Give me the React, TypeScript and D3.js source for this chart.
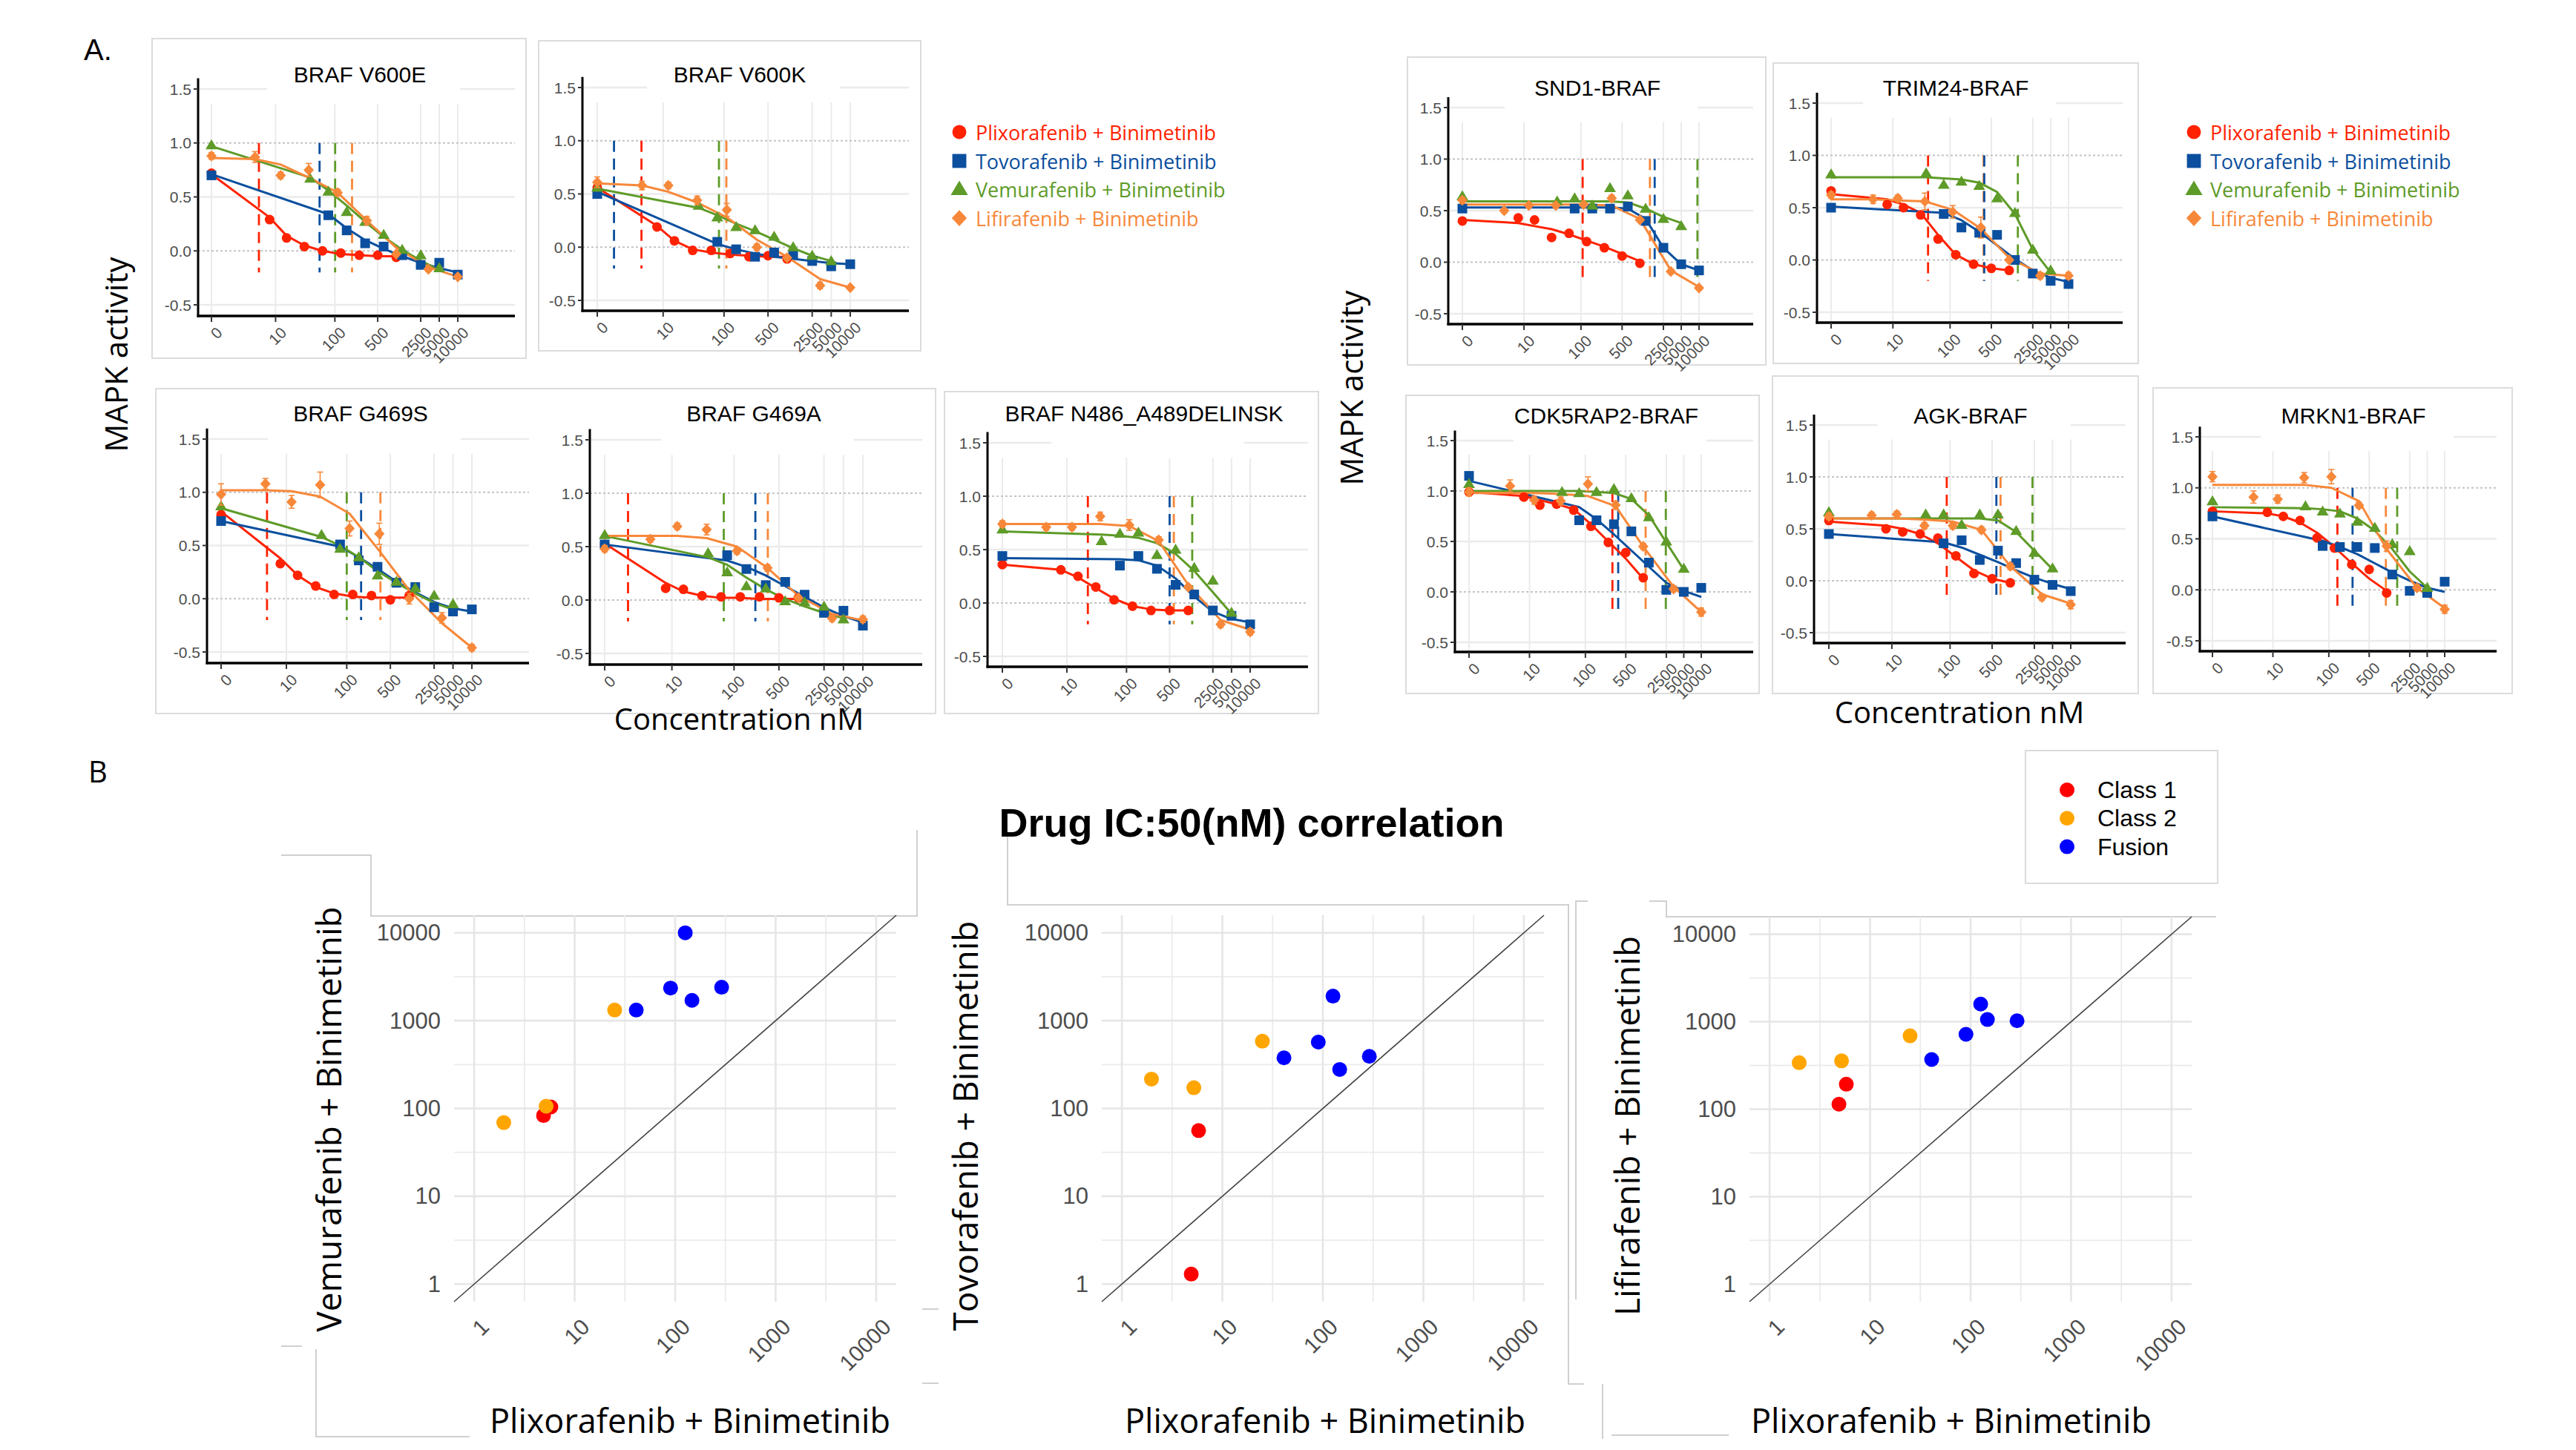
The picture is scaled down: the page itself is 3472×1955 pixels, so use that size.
import React, { useEffect } from "react";
import * as d3 from "d3";

const W = 3472;
const H = 1955;
const ARIAL = "'Liberation Sans', Arial, Helvetica, sans-serif";
const CALIBRI = "'Open Sans', 'Noto Sans', sans-serif";

// ---------------- Part A data ----------------
const DRUGS = [
  "Plixorafenib + Binimetinib",
  "Tovorafenib + Binimetinib",
  "Vemurafenib + Binimetinib",
  "Lifirafenib + Binimetinib",
];
const DRUG_COLORS = ["#FF2200", "#0B4F9E", "#5E9B28", "#F7883A"];
const DRUG_SHAPES = ["circle", "square", "triangle", "diamond"];

const CONC_PLX = [0, 7.8, 15.6, 31.25, 62.5, 125, 250, 500, 1000];
const CONC_TOV = [0, 78, 156, 312, 625, 1250, 2500, 5000, 10000];
const CONC_VEM = [0, 39, 78, 156, 312, 625, 1250, 2500, 5000];
const CONC_LIF = [0, 4.1, 12.3, 37, 111, 333, 1000, 3333, 10000];

const X_TICKS = [0, 10, 100, 500, 2500, 5000, 10000];
const Y_TICKS = [-0.5, 0, 0.5, 1, 1.5];

const PANEL_TITLES = [
  "BRAF V600E",
  "BRAF V600K",
  "SND1-BRAF",
  "TRIM24-BRAF",
  "BRAF G469S",
  "BRAF G469A",
  "BRAF N486_A489DELINSK",
  "CDK5RAP2-BRAF",
  "AGK-BRAF",
  "MRKN1-BRAF",
];

const PLX_VAL = [
  [0.72, 0.29, 0.12, 0.04, 0.0, -0.02, -0.04, -0.04, -0.06],
  [0.56, 0.19, 0.06, -0.03, -0.03, -0.06, -0.09, -0.08, -0.11],
  [0.4, 0.43, 0.41, 0.24, 0.28, 0.2, 0.14, 0.06, -0.01],
  [0.66, 0.53, 0.5, 0.43, 0.2, 0.05, -0.04, -0.08, -0.1],
  [0.79, 0.33, 0.22, 0.12, 0.04, 0.04, 0.03, -0.01, 0.03],
  [0.52, 0.11, 0.1, 0.04, 0.03, 0.03, 0.03, 0.02, 0.02],
  [0.36, 0.31, 0.25, 0.15, 0.03, -0.03, -0.07, -0.07, -0.07],
  [0.99, 0.94, 0.86, 0.87, 0.81, 0.65, 0.49, 0.39, 0.14],
  [0.58, 0.5, 0.47, 0.45, 0.41, 0.24, 0.07, 0.02, -0.02],
  [0.77, 0.76, 0.72, 0.68, 0.51, 0.41, 0.25, 0.2, -0.03],
];
const PLX_FIT = [
  [0.71, 0.31, 0.14, 0.05, 0.0, -0.03, -0.04, -0.05, -0.05],
  [0.56, 0.2, 0.06, -0.02, -0.05, -0.07, -0.08, -0.09, -0.09],
  [0.41, 0.38, 0.35, 0.32, 0.27, 0.21, 0.15, 0.08, 0.01],
  [0.63, 0.58, 0.53, 0.45, 0.24, 0.05, -0.04, -0.08, -0.1],
  [0.82, 0.38, 0.22, 0.11, 0.05, 0.02, 0.01, 0.01, 0.01],
  [0.53, 0.16, 0.08, 0.04, 0.02, 0.02, 0.01, 0.01, 0.01],
  [0.36, 0.31, 0.24, 0.14, 0.04, -0.03, -0.06, -0.07, -0.07],
  [0.99, 0.95, 0.91, 0.87, 0.82, 0.67, 0.5, 0.33, 0.13],
  [0.57, 0.53, 0.5, 0.45, 0.36, 0.23, 0.1, 0.02, -0.02],
  [0.77, 0.75, 0.72, 0.66, 0.56, 0.42, 0.26, 0.11, -0.01],
];
const TOV_VAL = [
  [0.7, 0.33, 0.19, 0.07, 0.04, -0.04, -0.13, -0.11, -0.22],
  [0.5, 0.05, -0.02, -0.09, -0.05, -0.07, -0.13, -0.18, -0.16],
  [0.52, 0.52, 0.52, 0.52, 0.54, 0.4, 0.14, -0.02, -0.08],
  [0.5, 0.44, 0.31, 0.26, 0.24, 0.0, -0.13, -0.2, -0.23],
  [0.73, 0.51, 0.36, 0.3, 0.15, 0.11, -0.08, -0.12, -0.1],
  [0.52, 0.42, 0.29, 0.14, 0.17, 0.05, -0.12, -0.1, -0.24],
  [0.44, 0.35, 0.44, 0.32, 0.17, 0.08, -0.07, -0.12, -0.2],
  [1.15, 0.71, 0.71, 0.67, 0.6, 0.29, 0.02, 0.0, 0.04],
  [0.45, 0.36, 0.39, 0.2, 0.29, 0.17, 0.01, -0.04, -0.1],
  [0.72, 0.43, 0.42, 0.42, 0.41, 0.15, -0.01, -0.03, 0.08],
];
const TOV_FIT = [
  [0.71, 0.34, 0.21, 0.1, 0.02, -0.05, -0.11, -0.16, -0.2],
  [0.52, 0.03, -0.02, -0.06, -0.09, -0.11, -0.13, -0.15, -0.16],
  [0.53, 0.53, 0.53, 0.53, 0.52, 0.42, 0.14, -0.02, -0.08],
  [0.51, 0.45, 0.38, 0.27, 0.14, 0.01, -0.1, -0.17, -0.21],
  [0.73, 0.49, 0.39, 0.28, 0.16, 0.06, -0.03, -0.09, -0.12],
  [0.52, 0.37, 0.31, 0.23, 0.13, 0.03, -0.07, -0.15, -0.21],
  [0.42, 0.41, 0.4, 0.35, 0.23, 0.06, -0.08, -0.15, -0.18],
  [1.1, 0.84, 0.72, 0.57, 0.41, 0.25, 0.09, 0.01, -0.05],
  [0.45, 0.37, 0.32, 0.25, 0.18, 0.1, 0.03, -0.03, -0.08],
  [0.72, 0.48, 0.42, 0.35, 0.26, 0.17, 0.09, 0.02, -0.02],
];
const VEM_VAL = [
  [0.98, 0.67, 0.55, 0.36, 0.27, 0.15, 0.01, -0.04, -0.16],
  [0.56, 0.39, 0.28, 0.19, 0.16, 0.1, 0.0, -0.08, -0.13],
  [0.64, 0.59, 0.62, 0.55, 0.72, 0.65, 0.52, 0.42, 0.35],
  [0.82, 0.83, 0.72, 0.75, 0.71, 0.59, 0.45, 0.1, -0.1],
  [0.87, 0.6, 0.47, 0.39, 0.22, 0.16, 0.1, 0.03, -0.05],
  [0.61, 0.44, 0.26, 0.13, 0.11, -0.01, -0.02, -0.06, -0.18],
  [0.69, 0.58, 0.65, 0.66, 0.45, 0.5, 0.33, 0.21, -0.09],
  [1.07, 0.99, 0.98, 0.99, 1.02, 0.93, 0.74, 0.5, 0.23],
  [0.66, 0.64, 0.64, 0.54, 0.64, 0.64, 0.48, 0.27, 0.12],
  [0.87, 0.82, 0.77, 0.75, 0.67, 0.61, 0.45, 0.38, 0.02],
];
const VEM_FIT = [
  [0.97, 0.68, 0.56, 0.42, 0.27, 0.13, 0.01, -0.09, -0.18],
  [0.55, 0.37, 0.3, 0.22, 0.15, 0.07, -0.01, -0.08, -0.13],
  [0.59, 0.59, 0.59, 0.59, 0.59, 0.58, 0.52, 0.44, 0.38],
  [0.79, 0.79, 0.78, 0.77, 0.74, 0.65, 0.44, 0.1, -0.12],
  [0.85, 0.58, 0.5, 0.39, 0.26, 0.15, 0.05, -0.04, -0.1],
  [0.6, 0.4, 0.33, 0.21, 0.1, 0.01, -0.06, -0.12, -0.17],
  [0.67, 0.64, 0.63, 0.61, 0.56, 0.46, 0.3, 0.1, -0.1],
  [1.0, 1.0, 1.0, 0.99, 0.98, 0.92, 0.76, 0.49, 0.22],
  [0.6, 0.6, 0.6, 0.6, 0.6, 0.58, 0.47, 0.29, 0.11],
  [0.81, 0.8, 0.79, 0.77, 0.7, 0.58, 0.4, 0.18, 0.02],
];
const LIF_VAL = [
  [0.88, 0.87, 0.7, 0.75, 0.54, 0.28, -0.03, -0.17, -0.24],
  [0.61, 0.58, 0.58, 0.44, 0.35, 0.0, -0.1, -0.36, -0.38],
  [0.6, 0.5, 0.55, 0.55, 0.56, 0.62, 0.41, -0.09, -0.25],
  [0.62, 0.58, 0.59, 0.56, 0.46, 0.31, 0.0, -0.15, -0.15],
  [0.98, 1.08, 0.91, 1.07, 0.66, 0.61, 0.0, -0.18, -0.46],
  [0.48, 0.57, 0.69, 0.66, 0.46, 0.3, 0.02, -0.17, -0.18],
  [0.74, 0.71, 0.71, 0.81, 0.73, 0.59, 0.15, -0.2, -0.27],
  [0.99, 1.05, 0.91, 0.9, 1.07, 0.86, 0.45, 0.03, -0.2],
  [0.62, 0.63, 0.64, 0.53, 0.53, 0.49, 0.14, -0.16, -0.23],
  [1.11, 0.91, 0.89, 1.1, 1.11, 0.83, 0.43, 0.02, -0.19],
];
const LIF_FIT = [
  [0.86, 0.85, 0.8, 0.68, 0.54, 0.28, 0.03, -0.15, -0.24],
  [0.6, 0.58, 0.52, 0.42, 0.28, 0.07, -0.09, -0.3, -0.38],
  [0.56, 0.56, 0.56, 0.56, 0.56, 0.55, 0.42, -0.08, -0.24],
  [0.58, 0.58, 0.57, 0.56, 0.48, 0.3, 0.02, -0.13, -0.15],
  [1.02, 1.02, 1.01, 0.96, 0.8, 0.45, 0.08, -0.23, -0.46],
  [0.6, 0.6, 0.6, 0.58, 0.5, 0.3, 0.04, -0.13, -0.19],
  [0.74, 0.74, 0.74, 0.74, 0.72, 0.58, 0.17, -0.16, -0.25],
  [0.98, 0.98, 0.98, 0.97, 0.95, 0.85, 0.45, 0.05, -0.2],
  [0.6, 0.6, 0.6, 0.59, 0.57, 0.49, 0.14, -0.13, -0.22],
  [1.03, 1.03, 1.03, 1.03, 1.0, 0.87, 0.4, 0.02, -0.18],
];
const LIF_ERR = [
  [0.03, 0.05, 0.03, 0.06, 0.03, 0.04, 0.02, 0.02, 0.02],
  [0.05, 0.04, 0.03, 0.04, 0.06, 0.03, 0.02, 0.03, 0.02],
  [0.03, 0.02, 0.02, 0.02, 0.02, 0.03, 0.02, 0.02, 0.02],
  [0.03, 0.04, 0.03, 0.08, 0.06, 0.1, 0.02, 0.03, 0.03],
  [0.1, 0.05, 0.06, 0.12, 0.07, 0.1, 0.05, 0.05, 0.03],
  [0.03, 0.03, 0.03, 0.05, 0.03, 0.03, 0.02, 0.03, 0.03],
  [0.03, 0.03, 0.03, 0.04, 0.05, 0.03, 0.02, 0.03, 0.03],
  [0.04, 0.06, 0.04, 0.04, 0.07, 0.04, 0.03, 0.03, 0.04],
  [0.03, 0.03, 0.03, 0.03, 0.03, 0.03, 0.03, 0.03, 0.04],
  [0.05, 0.06, 0.04, 0.05, 0.07, 0.03, 0.05, 0.03, 0.04],
];
// IC50 (nM) dashed lines: [Plixorafenib, Tovorafenib, Vemurafenib, Lifirafenib]
const IC50_LINES = [
  [4.9, 56, 101, 191],
  [4.0, 0.84, 83, 109],
  [107, 1780, 9400, 1480],
  [42, 380, 1400, 370],
  [4.4, 170, 100, 347],
  [1.3, 215, 69, 336],
  [23, 500, 1160, 585],
  [294, 370, 2450, 1100],
  [88, 588, 2330, 690],
  [141, 258, 1520, 970],
];

// ---------------- Part B data ----------------
const MUT_CLASS = ["Class 1", "Class 1", "Class 2", "Class 2", "Class 2", "Fusion", "Fusion", "Fusion", "Fusion", "Fusion"];
const CLASS_NAMES = ["Class 1", "Class 2", "Fusion"];
const CLASS_COLORS = ["#FF0000", "#FFA500", "#0000FF"];
const PLX_IC50 = [4.9, 5.8, 1.97, 5.2, 25, 41, 90, 126, 147, 290];
const VEM_IC50 = [83, 104, 69, 106, 1320, 1320, 2350, 10000, 1700, 2400];
const TOV_IC50 = [1.3, 56, 216, 172, 583, 377, 570, 1900, 278, 392];
const LIF_IC50 = [114, 193, 340, 357, 690, 370, 718, 1590, 1060, 1025];
const SCATTER_Y_TITLES = ["Vemurafenib + Binimetinib", "Tovorafenib + Binimetinib", "Lifirafenib + Binimetinib"];
const LOG_TICKS = [1, 10, 100, 1000, 10000];
const LOG_MINOR = [3.1623, 31.623, 316.23, 3162.3];

// ---------------- Layout (positions only) ----------------
const PANEL_LAYOUT = [
  { yAx: 267, x0: 285, x4: 617, yTop: 120, yBot: 411, xAxY: 426, xEnd: 694, tx: 485, ty: 100, top: 52 },
  { yAx: 785, x0: 805, x4: 1146, yTop: 118, yBot: 405, xAxY: 419, xEnd: 1225, tx: 997, ty: 100, top: 55 },
  { yAx: 1952, x0: 1971, x4: 2290, yTop: 145, yBot: 423, xAxY: 437, xEnd: 2363, tx: 2153, ty: 118, top: 79 },
  { yAx: 2449, x0: 2468, x4: 2788, yTop: 139, yBot: 421, xAxY: 435, xEnd: 2861, tx: 2636, ty: 118, top: 85 },
  { yAx: 279, x0: 298, x4: 636, yTop: 592, yBot: 879, xAxY: 894, xEnd: 713, tx: 486, ty: 557, top: 524 },
  { yAx: 795, x0: 815, x4: 1163, yTop: 593, yBot: 881, xAxY: 896, xEnd: 1243, tx: 1016, ty: 557, top: 524 },
  { yAx: 1331, x0: 1351, x4: 1685, yTop: 597, yBot: 885, xAxY: 899, xEnd: 1763, tx: 1542, ty: 557, top: 528 },
  { yAx: 1961, x0: 1980, x4: 2293, yTop: 594, yBot: 866, xAxY: 879, xEnd: 2363, tx: 2165, ty: 560, top: 533 },
  { yAx: 2445, x0: 2465, x4: 2791, yTop: 573, yBot: 853, xAxY: 867, xEnd: 2865, tx: 2656, ty: 560, top: 507 },
  { yAx: 2965, x0: 2982, x4: 3295, yTop: 589, yBot: 864, xAxY: 878, xEnd: 3365, tx: 3172, ty: 560, top: 523 },
];
const PANEL_BOXES = [
  [205, 52, 709, 483],
  [726, 55, 1241, 473],
  [1897, 77, 2380, 492],
  [2390, 85, 2882, 490],
  [210, 524, 1261, 962],
  [1273, 528, 1777, 962],
  [1895, 533, 2371, 935],
  [2389, 507, 2882, 935],
  [2902, 523, 3386, 935],
];
const SC_LAYOUT = [
  { x0: 612, x1: 1208, y0: 1234, y1: 1755, ytx: 442, yty: 1509, xtx: 930 },
  { x0: 1485, x1: 2081, y0: 1234, y1: 1755, ytx: 1300, yty: 1518, xtx: 1786 },
  { x0: 2358, x1: 2954, y0: 1236, y1: 1755, ytx: 2192, yty: 1518, xtx: 2630 },
];
const DECOR_LINES = [
  [[379, 1153], [500, 1153], [500, 1235], [1236, 1235], [1236, 1119]],
  [[379, 1815], [407, 1815]],
  [[426, 1819], [426, 1937], [633, 1937]],
  [[1243, 1765], [1265, 1765]],
  [[1243, 1865], [1265, 1865]],
  [[1358, 1127], [1358, 1220], [2114, 1220], [2114, 1866], [2135, 1866]],
  [[2124, 1752], [2124, 1215], [2140, 1215]],
  [[2223, 1215], [2246, 1215], [2246, 1236], [2987, 1236]],
  [[2160, 1866], [2160, 1940]],
  [[2172, 1935], [2330, 1935]],
];

// ---------------- Helpers ----------------
function Marker({ shape, cx, cy, color, s = 1 }: { shape: string; cx: number; cy: number; color: string; s?: number }) {
  if (shape === "circle") return <circle cx={cx} cy={cy} r={6.5 * s} fill={color} />;
  if (shape === "square")
    return <rect x={cx - 6.5 * s} y={cy - 6.5 * s} width={13 * s} height={13 * s} fill={color} />;
  if (shape === "triangle") {
    const p = [
      [cx, cy - 8 * s],
      [cx + 8 * s, cy + 5.5 * s],
      [cx - 8 * s, cy + 5.5 * s],
    ];
    return <polygon points={p.map((q) => q.join(",")).join(" ")} fill={color} />;
  }
  const p = [
    [cx, cy - 7.5 * s],
    [cx + 7 * s, cy],
    [cx, cy + 7.5 * s],
    [cx - 7 * s, cy],
  ];
  return <polygon points={p.map((q) => q.join(",")).join(" ")} fill={color} />;
}

function DosePanel({ idx }: { idx: number }) {
  const L = PANEL_LAYOUT[idx];
  const x = d3.scaleSymlog().constant(1).domain([0, 10000]).range([L.x0, L.x4]);
  const y = d3.scaleLinear().domain([-0.5, 1.5]).range([L.yBot, L.yTop]);
  const series = [
    { conc: CONC_PLX, val: PLX_VAL[idx], fit: PLX_FIT[idx], err: null as number[] | null },
    { conc: CONC_TOV, val: TOV_VAL[idx], fit: TOV_FIT[idx], err: null as number[] | null },
    { conc: CONC_VEM, val: VEM_VAL[idx], fit: VEM_FIT[idx], err: null as number[] | null },
    { conc: CONC_LIF, val: LIF_VAL[idx], fit: LIF_FIT[idx], err: LIF_ERR[idx] },
  ];
  const line = d3
    .line<[number, number]>()
    .x((d) => x(d[0]))
    .y((d) => y(d[1]));
  const grid = "#ebebeb";
  return (
    <g>
      {[-0.5, 0.5, 1.5].map((v) => (
        <line key={"h" + v} x1={L.yAx} x2={L.xEnd} y1={y(v)} y2={y(v)} stroke={grid} strokeWidth={2.5} />
      ))}
      {X_TICKS.map((t) => (
        <line key={"v" + t} x1={x(t)} x2={x(t)} y1={y(1.36)} y2={L.xAxY} stroke={grid} strokeWidth={2} />
      ))}
      <rect x={L.tx - 125} y={L.top + 3} width={260} height={L.yTop - L.top + 2} fill="#fff" />
      <text x={L.tx} y={L.ty} textAnchor="middle" dominantBaseline="central" fontFamily={ARIAL} fontSize={30} fill="#000">
        {PANEL_TITLES[idx]}
      </text>
      {[0, 1].map((v) => (
        <line key={"d" + v} x1={L.yAx} x2={L.xEnd} y1={y(v)} y2={y(v)} stroke="#c4c4c4" strokeWidth={2} strokeDasharray="3,3" />
      ))}
      {[3, 0, 2, 1].map((k) => (
        <line
          key={"ic" + k}
          x1={x(IC50_LINES[idx][k])}
          x2={x(IC50_LINES[idx][k])}
          y1={y(1.0)}
          y2={y(-0.2)}
          stroke={DRUG_COLORS[k]}
          strokeWidth={2.8}
          strokeDasharray="15,9"
        />
      ))}
      {series.map((s, k) => (
        <path
          key={"f" + k}
          d={line(s.conc.map((c, i) => [c, s.fit[i]] as [number, number])) || ""}
          fill="none"
          stroke={DRUG_COLORS[k]}
          strokeWidth={3}
          strokeLinejoin="round"
        />
      ))}
      {series.map((s, k) => (
        <g key={"p" + k}>
          {s.conc.map((c, i) => (
            <g key={i}>
              {s.err && (
                <g stroke={DRUG_COLORS[k]} strokeWidth={1.6}>
                  <line x1={x(c)} x2={x(c)} y1={y(s.val[i] - s.err[i])} y2={y(s.val[i] + s.err[i])} />
                  <line x1={x(c) - 4} x2={x(c) + 4} y1={y(s.val[i] + s.err[i])} y2={y(s.val[i] + s.err[i])} />
                  <line x1={x(c) - 4} x2={x(c) + 4} y1={y(s.val[i] - s.err[i])} y2={y(s.val[i] - s.err[i])} />
                </g>
              )}
              <Marker shape={DRUG_SHAPES[k]} cx={x(c)} cy={y(s.val[i])} color={DRUG_COLORS[k]} />
            </g>
          ))}
        </g>
      ))}
      <line x1={L.yAx} x2={L.yAx} y1={y(1.6)} y2={L.xAxY + 1.5} stroke="#000" strokeWidth={3} />
      <line x1={L.yAx - 1.5} x2={L.xEnd} y1={L.xAxY} y2={L.xAxY} stroke="#000" strokeWidth={3.5} />
      {Y_TICKS.map((v) => (
        <g key={"yt" + v}>
          <line x1={L.yAx - 6} x2={L.yAx} y1={y(v)} y2={y(v)} stroke="#333" strokeWidth={2} />
          <text
            x={L.yAx - 9}
            y={y(v)}
            textAnchor="end"
            dominantBaseline="central"
            fontFamily={ARIAL}
            fontSize={21}
            fill="#4d4d4d"
          >
            {v.toFixed(1)}
          </text>
        </g>
      ))}
      {X_TICKS.map((t) => (
        <g key={"xt" + t}>
          <line x1={x(t)} x2={x(t)} y1={L.xAxY} y2={L.xAxY + 8} stroke="#333" strokeWidth={2} />
          <text
            transform={`translate(${x(t) + 16},${L.xAxY + 24}) rotate(-45)`}
            textAnchor="end"
            fontFamily={ARIAL}
            fontSize={21}
            fill="#4d4d4d"
          >
            {String(t)}
          </text>
        </g>
      ))}
    </g>
  );
}

function DoseLegend({ mx, tx }: { mx: number; tx: number }) {
  const rows = [178, 217, 255, 294];
  return (
    <g>
      {DRUGS.map((d, k) => (
        <g key={d}>
          <Marker shape={DRUG_SHAPES[k]} cx={mx} cy={rows[k]} color={DRUG_COLORS[k]} s={1.45} />
          <text x={tx} y={rows[k]} dominantBaseline="central" fontFamily={CALIBRI} fontSize={27} fill={DRUG_COLORS[k]}>
            {d}
          </text>
        </g>
      ))}
    </g>
  );
}

function ScatterPanel({ idx }: { idx: number }) {
  const L = SC_LAYOUT[idx];
  const yVals = [VEM_IC50, TOV_IC50, LIF_IC50][idx];
  const dom = [Math.pow(10, -0.2), Math.pow(10, 4.2)];
  const x = d3.scaleLog().domain(dom).range([L.x0, L.x1]);
  const y = d3.scaleLog().domain(dom).range([L.y1, L.y0]);
  const pts = PLX_IC50.map((v, i) => ({ x: v, y: yVals[i], c: CLASS_NAMES.indexOf(MUT_CLASS[i]) }));
  const order = d3.range(pts.length).sort((a, b) => pts[a].c - pts[b].c);
  return (
    <g>
      {LOG_MINOR.map((t) => (
        <g key={"m" + t}>
          <line x1={x(t)} x2={x(t)} y1={L.y0} y2={L.y1} stroke="#ebebeb" strokeWidth={1.8} />
          <line x1={L.x0} x2={L.x1} y1={y(t)} y2={y(t)} stroke="#ebebeb" strokeWidth={1.8} />
        </g>
      ))}
      {LOG_TICKS.map((t) => (
        <g key={"M" + t}>
          <line x1={x(t)} x2={x(t)} y1={L.y0} y2={L.y1} stroke="#e6e6e6" strokeWidth={2.6} />
          <line x1={L.x0} x2={L.x1} y1={y(t)} y2={y(t)} stroke="#e6e6e6" strokeWidth={2.6} />
          <text
            x={L.x0 - 18}
            y={y(t)}
            textAnchor="end"
            dominantBaseline="central"
            fontFamily={ARIAL}
            fontSize={31}
            fill="#4d4d4d"
          >
            {String(t)}
          </text>
          <text
            transform={`translate(${x(t) + 22},${L.y1 + 36}) rotate(-45)`}
            textAnchor="end"
            fontFamily={ARIAL}
            fontSize={30}
            fill="#4d4d4d"
          >
            {String(t)}
          </text>
        </g>
      ))}
      <line x1={x(dom[0])} y1={y(dom[0])} x2={x(dom[1])} y2={y(dom[1])} stroke="#444" strokeWidth={1.6} />
      {order.map((i) => (
        <circle key={i} cx={x(pts[i].x)} cy={y(pts[i].y)} r={10} fill={CLASS_COLORS[pts[i].c]} />
      ))}
      <text
        transform={`translate(${L.ytx},${L.yty}) rotate(-90)`}
        textAnchor="middle"
        dominantBaseline="central"
        fontFamily={CALIBRI}
        fontSize={46}
        fill="#000"
      >
        {SCATTER_Y_TITLES[idx]}
      </text>
      <text x={L.xtx} y={1932} textAnchor="middle" fontFamily={CALIBRI} fontSize={45} fill="#000">
        {DRUGS[0]}
      </text>
    </g>
  );
}

export default function App() {
  useEffect(() => {
    document.body.style.margin = "0";
  }, []);
  return (
    <svg
      width={W}
      height={H}
      viewBox={`0 0 ${W} ${H}`}
      style={{ position: "absolute", left: 0, top: 0, background: "#fff" }}
    >
      <rect x={0} y={0} width={W} height={H} fill="#fff" />
      {PANEL_BOXES.map((b, i) => (
        <rect key={i} x={b[0]} y={b[1]} width={b[2] - b[0]} height={b[3] - b[1]} fill="none" stroke="#dcdcdc" strokeWidth={2} />
      ))}
      {DECOR_LINES.map((pl, i) => (
        <polyline key={i} points={pl.map((p) => p.join(",")).join(" ")} fill="none" stroke="#d0d0d0" strokeWidth={2} />
      ))}
      <text x={113} y={81} fontFamily={ARIAL} fontSize={40} fill="#000">
        A.
      </text>
      <text x={119} y={1055} fontFamily={CALIBRI} fontSize={40} fill="#000">
        B
      </text>
      {PANEL_TITLES.map((_, i) => (
        <DosePanel key={i} idx={i} />
      ))}
      <DoseLegend mx={1293} tx={1315} />
      <DoseLegend mx={2957} tx={2979} />
      <text
        transform="translate(155,478) rotate(-90)"
        textAnchor="middle"
        dominantBaseline="central"
        fontFamily={CALIBRI}
        fontSize={42}
        fill="#000"
      >
        MAPK activity
      </text>
      <text
        transform="translate(1820,523) rotate(-90)"
        textAnchor="middle"
        dominantBaseline="central"
        fontFamily={CALIBRI}
        fontSize={42}
        fill="#000"
      >
        MAPK activity
      </text>
      <text x={996} y={984} textAnchor="middle" fontFamily={CALIBRI} fontSize={40} fill="#000">
        Concentration nM
      </text>
      <text x={2641} y={975} textAnchor="middle" fontFamily={CALIBRI} fontSize={40} fill="#000">
        Concentration nM
      </text>
      <text x={1687} y={1128} textAnchor="middle" fontFamily={ARIAL} fontWeight="bold" fontSize={54} fill="#000">
        Drug IC:50(nM) correlation
      </text>
      {[0, 1, 2].map((i) => (
        <ScatterPanel key={i} idx={i} />
      ))}
      <rect x={2730} y={1012} width={259} height={179} fill="#fff" stroke="#dcdcdc" strokeWidth={2} />
      {CLASS_NAMES.map((c, k) => (
        <g key={c}>
          <circle cx={2786} cy={1065 + k * 38.3} r={10} fill={CLASS_COLORS[k]} />
          <text x={2827} y={1065 + k * 38.3} dominantBaseline="central" fontFamily={ARIAL} fontSize={32} fill="#000">
            {c}
          </text>
        </g>
      ))}
    </svg>
  );
}
